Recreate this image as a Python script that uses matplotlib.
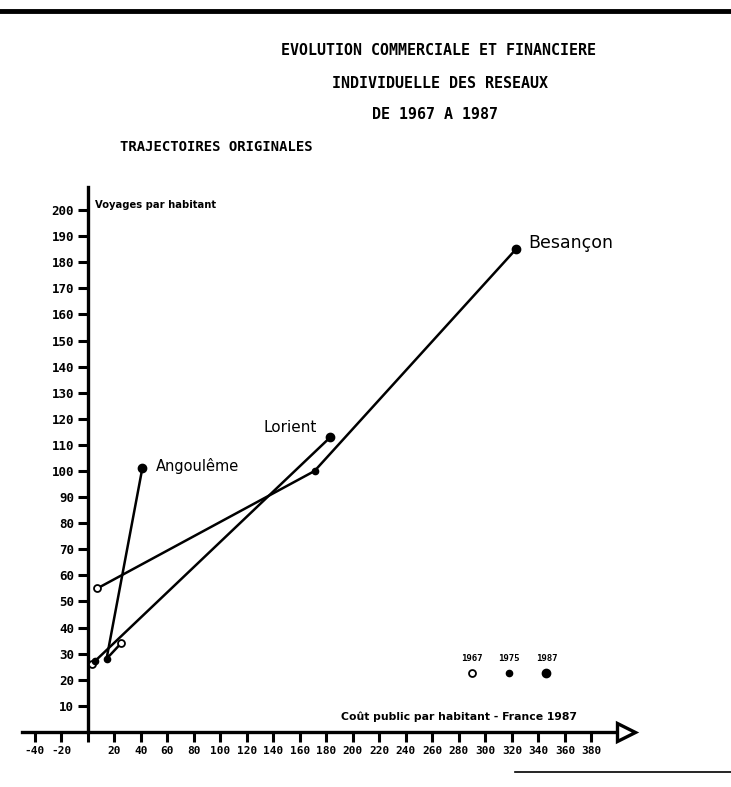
import matplotlib
matplotlib.use("Agg")
import matplotlib.pyplot as plt
from matplotlib.lines import Line2D

# trajectories: cost per inhabitant (x) / trips per inhabitant (y)
YEARS = ["1967", "1975", "1987"]
ANGOULEME_COST = [25, 14, 41]
ANGOULEME_TRIPS = [34, 28, 101]
LORIENT_COST = [3, 5, 183]
LORIENT_TRIPS = [26, 27, 113]
BESANCON_COST = [7, 171, 323]
BESANCON_TRIPS = [55, 100, 185]

X_TICKS = [-40, -20, 0, 20, 40, 60, 80, 100, 120, 140, 160, 180, 200, 220,
           240, 260, 280, 300, 320, 340, 360, 380]
Y_TICKS = [10, 20, 30, 40, 50, 60, 70, 80, 90, 100, 110, 120, 130, 140, 150,
           160, 170, 180, 190, 200]

MONO = "DejaVu Sans Mono"
# marker style per year: open, small filled, big filled
YEAR_STYLE = [
    dict(marker="o", ms=5, mfc="white", mec="black", mew=1.3),
    dict(marker="o", ms=4.5, mfc="black", mec="black", mew=1),
    dict(marker="o", ms=6, mfc="black", mec="black", mew=1),
]

fig = plt.figure(figsize=(7.31, 7.87), dpi=100)
ax = fig.add_axes([0, 0, 1, 1])
ax.set_xlim(-66.4, 485.3)
ax.set_ylim(-21.1, 280.5)

# axes drawn like the hand-made ones: crossing at zero, arrow on x
for side in ("top", "right"):
    ax.spines[side].set_visible(False)
ax.spines["left"].set_position(("data", 0))
ax.spines["bottom"].set_position(("data", 0))
ax.spines["left"].set_bounds(0, 209)
ax.spines["bottom"].set_bounds(-50, 400)
ax.spines["left"].set_linewidth(2.4)
ax.spines["bottom"].set_linewidth(2.4)
ax.plot([406], [0], marker=">", ms=13, mfc="white", mec="black", mew=2.4,
        clip_on=False, zorder=5)

ax.set_xticks(X_TICKS)
ax.set_xticklabels(["" if v == 0 else str(v) for v in X_TICKS])
ax.set_yticks(Y_TICKS)
ax.set_yticklabels([str(v) for v in Y_TICKS])
ax.tick_params(axis="both", direction="out", length=7, width=2.2, pad=3)
ax.tick_params(axis="y", labelsize=9)
ax.tick_params(axis="x", labelsize=8)
for lab in ax.get_xticklabels() + ax.get_yticklabels():
    lab.set_fontweight("bold")
    lab.set_family(MONO)

series = [
    ("Angoulême", ANGOULEME_COST, ANGOULEME_TRIPS, (9.5, 2), "left", 10.5),
    ("Lorient", LORIENT_COST, LORIENT_TRIPS, (-10, 7), "right", 11),
    ("Besançon", BESANCON_COST, BESANCON_TRIPS, (9, 4.5), "left", 12.5),
]
for name, xs, ys, off, ha, size in series:
    ax.plot(xs, ys, color="black", lw=1.8, zorder=3)
    for i in range(len(YEARS)):
        ax.plot(xs[i], ys[i], ls="none", zorder=4, **YEAR_STYLE[i])
    ax.annotate(name, (xs[-1], ys[-1]), xytext=off, textcoords="offset points",
                ha=ha, va="center", fontsize=size, fontweight="medium")

# year key
key_x = [290, 318, 346]
for i, yr in enumerate(YEARS):
    ax.plot(key_x[i], 22.6, ls="none", **YEAR_STYLE[i])
    ax.text(key_x[i], 26.5, yr, ha="center", va="bottom", fontsize=6.5,
            fontweight="bold", family=MONO)

ax.text(5, 202, "Voyages par habitant", fontsize=7.2, fontweight="bold",
        va="center", ha="left")
ax.text(280, 6, "Coût public par habitant - France 1987", fontsize=7.8,
        fontweight="bold", va="center", ha="center")

# titles
fig.text(0.600, 0.936, "EVOLUTION COMMERCIALE ET FINANCIERE", ha="center",
         va="center", fontsize=10.8, fontweight="bold", family=MONO)
fig.text(0.602, 0.894, "INDIVIDUELLE DES RESEAUX", ha="center", va="center",
         fontsize=10.8, fontweight="bold", family=MONO)
fig.text(0.595, 0.855, "DE 1967 A 1987", ha="center", va="center",
         fontsize=10.8, fontweight="bold", family=MONO)
fig.text(0.164, 0.813, "TRAJECTOIRES ORIGINALES", ha="left", va="center",
         fontsize=10, fontweight="bold", family=MONO)

# page edges from the scan
fig.add_artist(Line2D([0, 1], [0.986, 0.986], color="black", lw=3.5))
fig.add_artist(Line2D([0.705, 1], [0.019, 0.019], color="black", lw=1.2))

fig.savefig("out.png", dpi=100)
